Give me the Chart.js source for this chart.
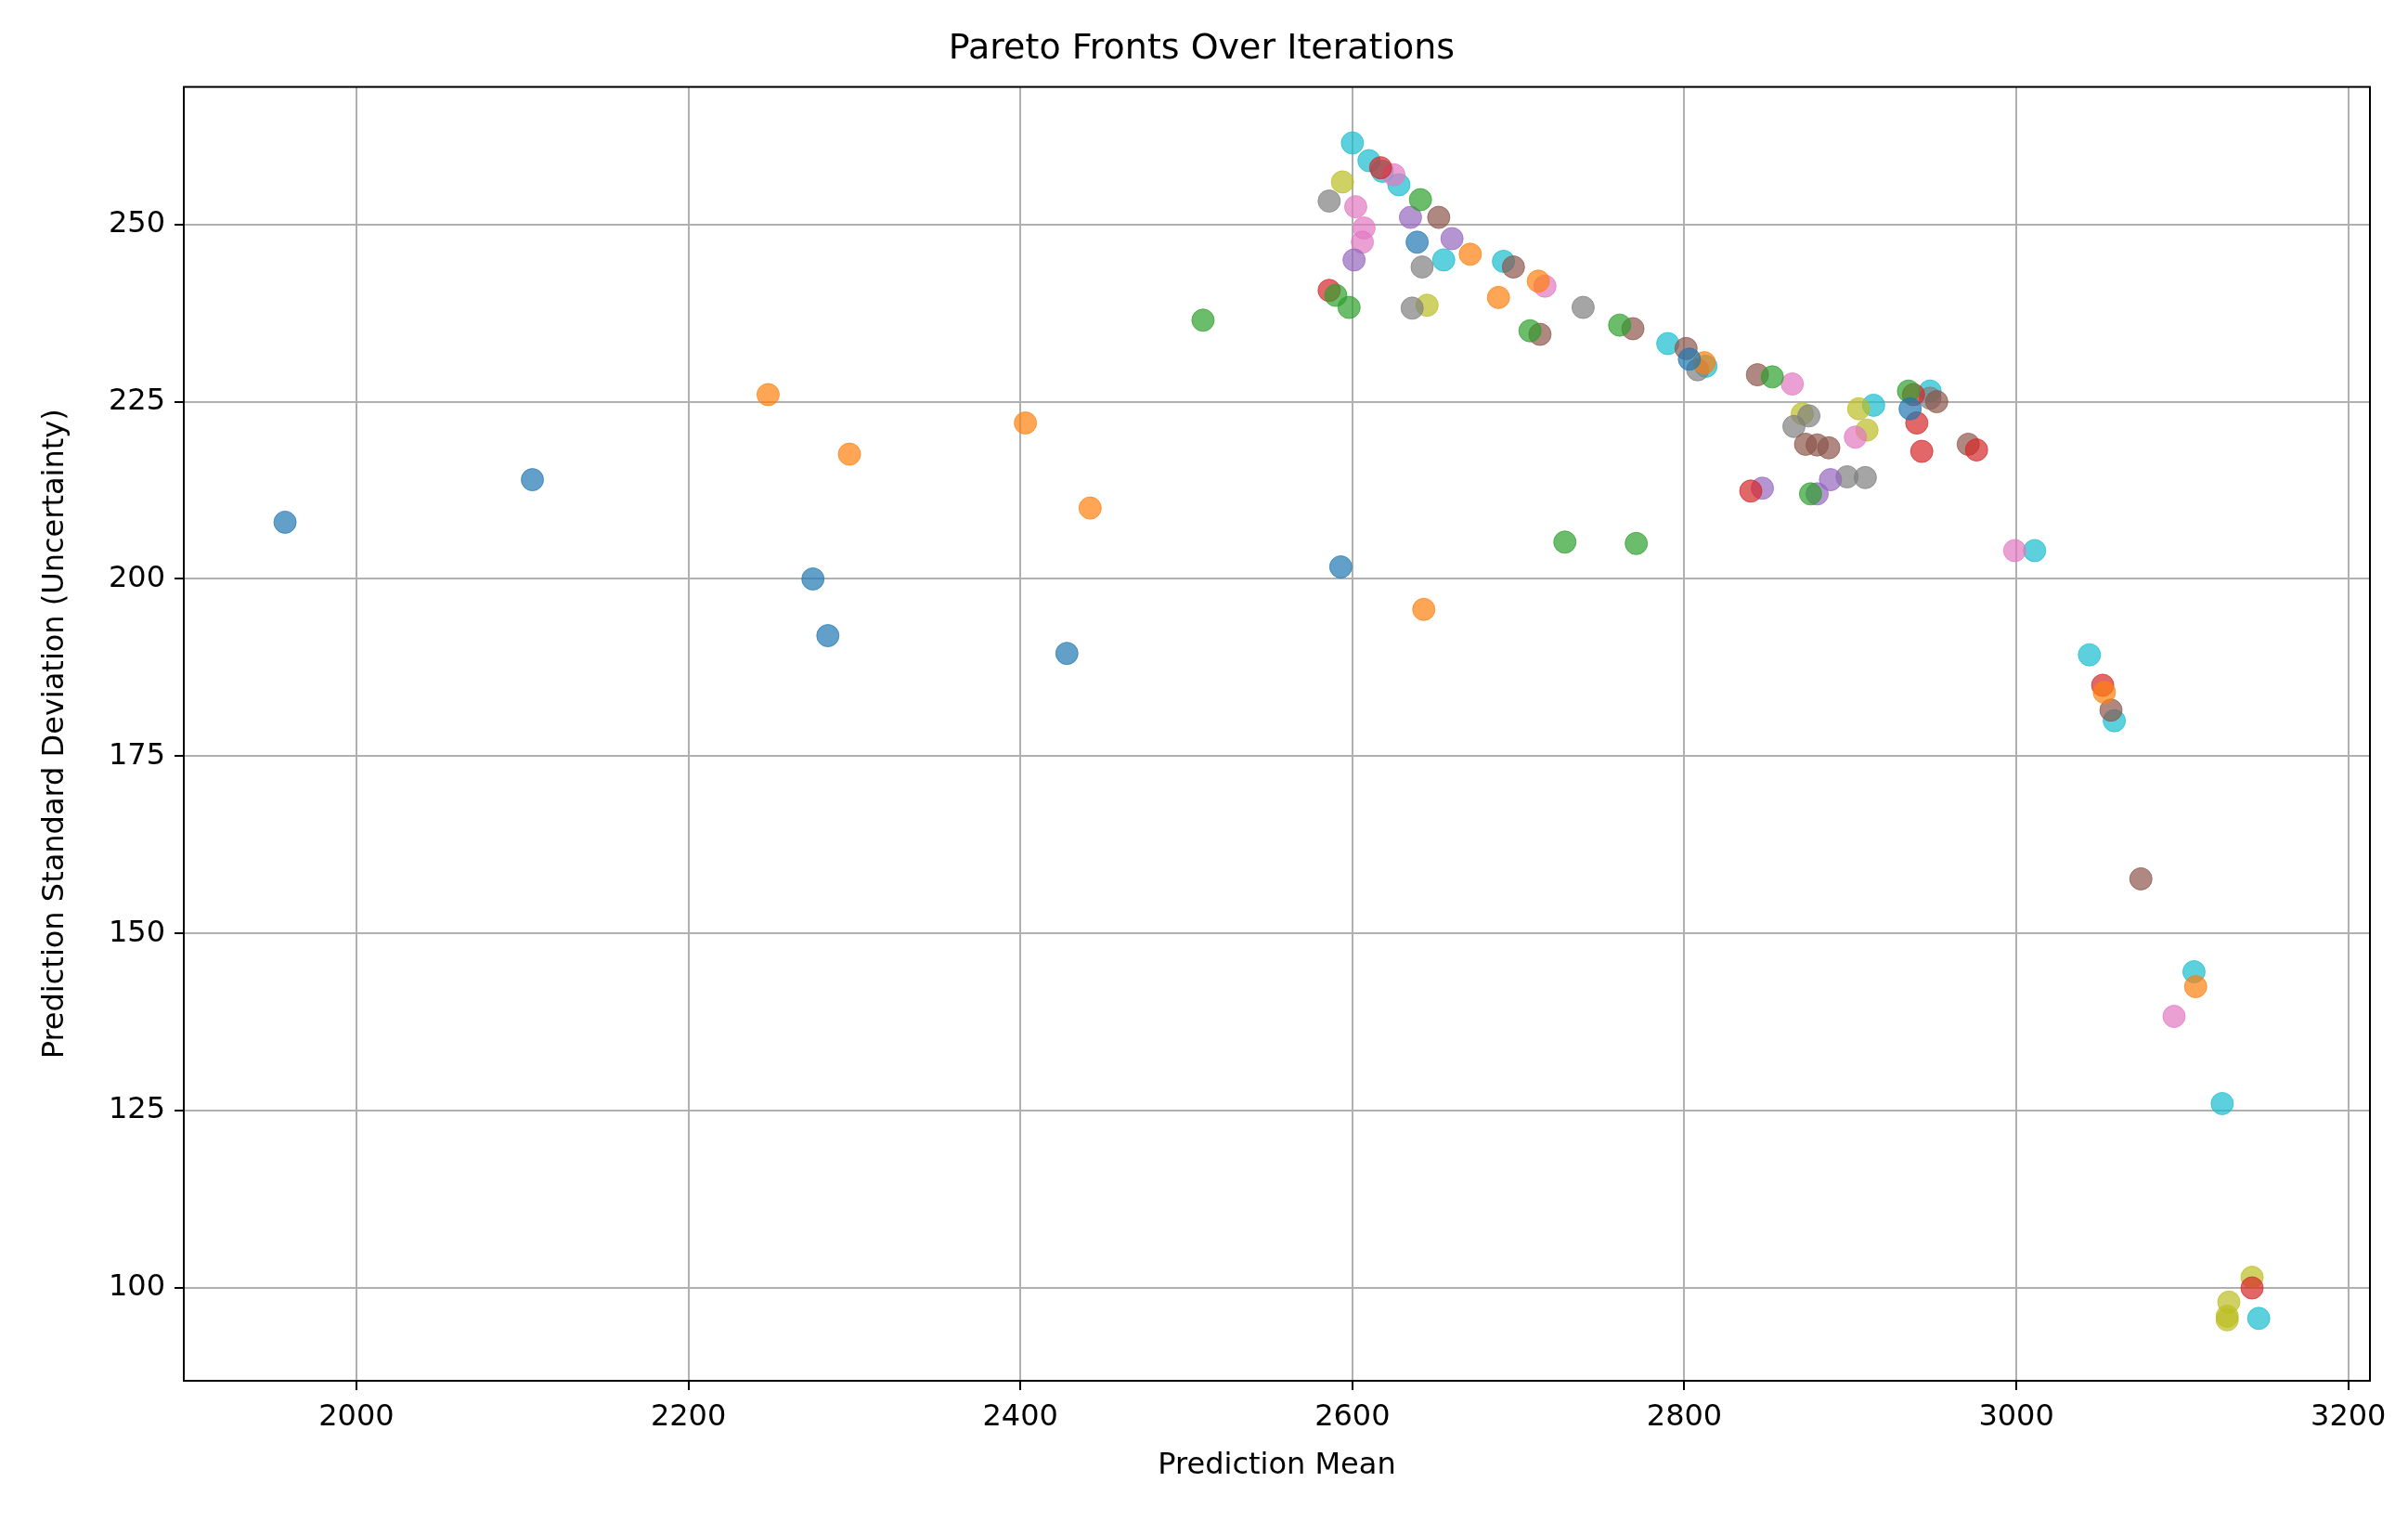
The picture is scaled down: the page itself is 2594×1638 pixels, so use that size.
<!DOCTYPE html>
<html lang="en">
<head>
  <meta charset="UTF-8">
  <title>Pareto Fronts Over Iterations</title>
  <style>
    body { margin: 0; background: white; }
    #wrap { width: 2594px; height: 1638px; }
  </style>
</head>
<body>
  <div id="wrap"><canvas id="chart" width="2594" height="1638"></canvas></div>
  <script src="https://cdn.jsdelivr.net/npm/chart.js"></script>
  <script>
    // points, grouped by colour
    const blue = [[1957,208],[2106,214],[2275,200],[2284,192],[2428,189.5],[2593,201.7],[2639,247.5],[2803,231],[2936,224]];
    const orange = [[2248,226],[2297,217.6],[2442,210],[2643,195.7],[2671,245.8],[2812,230.5],[2403,222],[2688,239.7],[2712,242],[3053,184],[3108,142.5]];
    const green = [[2510,236.5],[2598,238.3],[2590,240],[2728,205.2],[2771,205],[2641,253.5],[2707,235],[2761,235.8],[2853,228.5],[2876,212],[2935,226.5]];
    const red = [[2586,240.7],[2617,258],[2840,212.4],[2943,218],[2976,218.2],[2938,226],[2940,222],[3052,185],[3142,100]];
    const purple = [[2601,245],[2635,251],[2660,248],[2847,212.8],[2880,212],[2888,214]];
    const brown = [[2652,251],[2697,244],[2713,234.5],[2769,235.3],[2801,232.5],[2844,228.8],[2873,219],[2880,218.9],[2887,218.5],[2971,219],[2952,225],[3057,181.5],[3075,157.7]];
    const pink = [[2602,252.5],[2607,249.5],[2606,247.5],[2716,241.3],[2865,227.5],[2903,220],[2999,204],[3095,138.3],[2625,257]];
    const gray = [[2586,253.3],[2636,238.2],[2642,244],[2739,238.3],[2808,229.5],[2866,221.5],[2898,214.4],[2909,214.3],[2875,223],[2948,225.5]];
    const olive = [[2594,256],[2645,238.6],[2871,223.3],[2905,224],[2910,221],[3127,95.5],[3128,98],[3142,101.5],[3127,96]];
    const cyan = [[2600,261.5],[2610,259],[2628,255.6],[2618,257.5],[2655,245],[2691,244.8],[2790,233.2],[2813,230],[2914,224.5],[2948,226.5],[3011,204],[3044,189.3],[3059,180],[3107,144.6],[3124,126],[3146,95.7]];

    const groups = [blue, orange, green, red, purple, brown, pink, gray, olive, cyan];
    const colors = ['31,119,180','255,127,14','44,160,44','214,39,40','148,103,189','140,86,75','227,119,194','127,127,127','188,189,34','23,190,207'];
    const xTicks = [2000, 2200, 2400, 2600, 2800, 3000, 3200];
    const yTicks = [100, 125, 150, 175, 200, 225, 250];

    const datasets = groups.map((g, i) => ({
      data: g.map(p => ({ x: p[0], y: p[1] })),
      backgroundColor: 'rgba(' + colors[i] + ',0.7)',
      borderColor: 'rgba(' + colors[i] + ',0.7)',
      borderWidth: 1,
      pointRadius: 12
    }));

    const font = { family: 'DejaVu Sans', size: 32 };
    new Chart(document.getElementById('chart'), {
      type: 'scatter',
      data: { datasets },
      options: {
        responsive: false,
        animation: false,
        layout: { padding: { right: 41, left: 36, bottom: 36 } },
        plugins: {
          legend: { display: false },
          tooltip: { enabled: false },
          title: { display: true, text: 'Pareto Fronts Over Iterations', color: 'black',
                   font: { family: 'DejaVu Sans', size: 38, weight: 'normal' }, padding: { top: 30, bottom: 18 } }
        },
        scales: {
          x: {
            min: 1896, max: 3213,
            afterBuildTicks: s => { s.ticks = xTicks.map(v => ({ value: v })); },
            afterFit: s => { s.height = 115; },
            title: { display: true, text: 'Prediction Mean', color: 'black', font, padding: { top: 8 } },
            ticks: { color: 'black', font, padding: 10, callback: v => String(v) },
            grid: { color: '#b0b0b0', lineWidth: 2, tickColor: 'black', tickLength: 10 },
            border: { color: 'black', width: 2 }
          },
          y: {
            min: 86.9, max: 269.4,
            afterBuildTicks: s => { s.ticks = yTicks.map(v => ({ value: v })); },
            afterFit: s => { s.width = 162; },
            title: { display: true, text: 'Prediction Standard Deviation (Uncertainty)', color: 'black', font },
            ticks: { color: 'black', font, padding: 10, callback: v => String(v) },
            grid: { color: '#b0b0b0', lineWidth: 2, tickColor: 'black', tickLength: 10 },
            border: { color: 'black', width: 2 }
          }
        }
      },
      plugins: [{
        id: 'frame',
        afterDraw(c) {
          const a = c.chartArea, ctx = c.ctx;
          ctx.save(); ctx.strokeStyle = 'black'; ctx.lineWidth = 2;
          ctx.strokeRect(a.left, a.top, a.right - a.left, a.bottom - a.top);
          ctx.restore();
        }
      }]
    });
  </script>
</body>
</html>
